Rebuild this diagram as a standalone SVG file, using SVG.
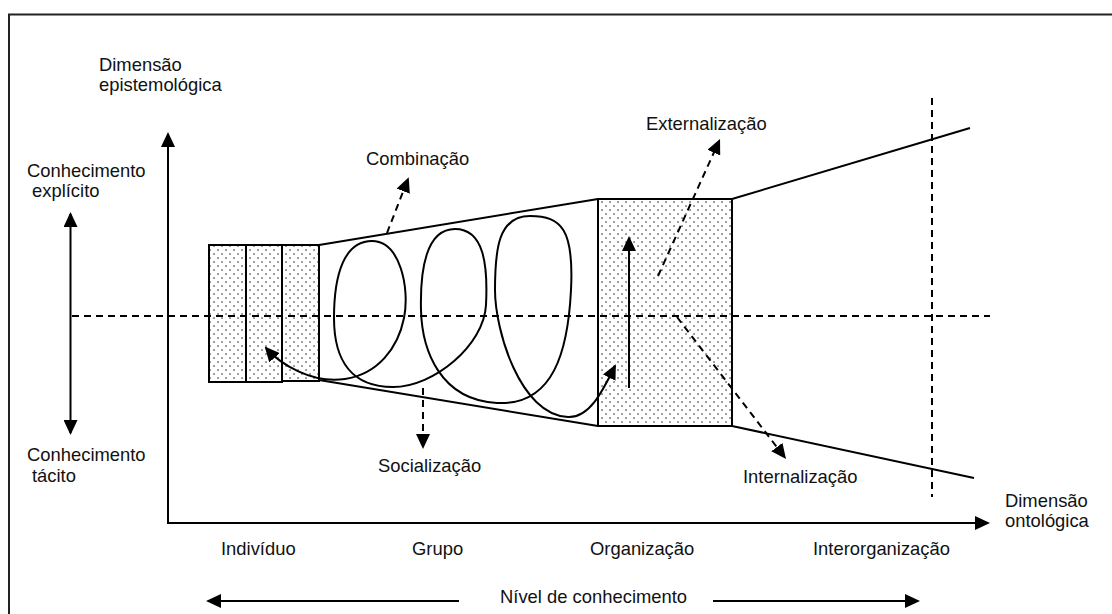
<svg xmlns="http://www.w3.org/2000/svg" width="1112" height="614" viewBox="0 0 1112 614">
  <defs>
    <pattern id="dots" patternUnits="userSpaceOnUse" width="8" height="8">
      <rect x="1.3" y="1.3" width="1.5" height="1.5" fill="#555"/>
      <rect x="5.3" y="5.3" width="1.5" height="1.5" fill="#555"/>
    </pattern>
    <marker id="arrow" markerUnits="userSpaceOnUse" viewBox="0 0 15 14" markerWidth="15" markerHeight="14" refX="13" refY="7" orient="auto-start-reverse">
      <path d="M0,0 L15,7 L0,14 z" fill="#000"/>
    </marker>
    <style>
      text { font-family: "Liberation Sans", Arial, sans-serif; font-size: 18.4px; fill: #111; }
      .solid { fill: none; stroke: #000; stroke-width: 2; }
      .dash { fill: none; stroke: #000; stroke-width: 2; stroke-dasharray: 7 5; }
      .box { fill: url(#dots); stroke: #000; stroke-width: 2; }
      .arr { marker-end: url(#arrow); }
    </style>
  </defs>

  <rect x="0" y="0" width="1112" height="614" fill="#fff"/>
  <!-- frame -->
  <rect x="9" y="14.5" width="1200" height="700" fill="none" stroke="#222" stroke-width="2"/>

  <!-- nodes -->
  <g id="individuo-boxes">
    <rect class="box" x="209" y="245" width="37" height="137"/>
    <rect class="box" x="246" y="245" width="36" height="137"/>
    <rect class="box" x="282" y="245" width="37" height="136"/>
  </g>
  <g id="organizacao-box">
    <rect class="box" x="598" y="199" width="134" height="227"/>
  </g>

  <g id="connectors">
    <!-- funnel lines -->
    <line class="solid" x1="319" y1="245" x2="598" y2="199"/>
    <line class="solid" x1="319" y1="380" x2="598" y2="426"/>
    <line class="solid" x1="732" y1="199" x2="970" y2="128"/>
    <line class="solid" x1="732" y1="426" x2="974" y2="478"/>

    <!-- axes -->
    <line class="solid arr" x1="168" y1="523" x2="168" y2="134"/>
    <line class="solid arr" x1="167" y1="523" x2="988" y2="523"/>
    <line class="solid" x1="70.5" y1="214" x2="70.5" y2="433" marker-start="url(#arrow)" marker-end="url(#arrow)"/>
    <line class="solid arr" x1="459" y1="601" x2="208" y2="601"/>
    <line class="solid arr" x1="713" y1="601" x2="918" y2="601"/>

    <!-- dashed guides -->
    <line class="dash" x1="72" y1="316" x2="990" y2="316"/>
    <line class="dash" x1="932" y1="98" x2="932" y2="497"/>

    <!-- spiral -->
    <path class="solid" marker-start="url(#arrow)" marker-end="url(#arrow)"
      d="M266,348 C280,364 312,384 345,379 S398,348 404,318 S400,241 372,241 S334,275 334,318 S352,387 393,387 S484,345 486,305 S484,229 455,229 S420,270 421,310 S440,400 497,403 S568,350 571,290 S562,216 530,216 S495,250 495,290 S520,415 568,417 C590,418 603,390 615,366"/>

    <!-- vertical arrow inside organisation box -->
    <line class="solid arr" x1="629" y1="388" x2="629" y2="238"/>

    <!-- SECI dashed arrows -->
    <line class="dash arr" x1="387" y1="233" x2="408" y2="179"/>
    <line class="dash arr" x1="423" y1="388" x2="423" y2="447"/>
    <line class="dash arr" x1="658" y1="276" x2="719.2" y2="140.8"/>
    <line class="dash arr" x1="677" y1="317" x2="784.8" y2="457.4"/>
  </g>

  <g id="labels">
    <text x="99" y="71">Dimensão</text>
    <text x="99" y="91">epistemológica</text>
    <text x="27" y="177">Conhecimento</text>
    <text x="32" y="197">explícito</text>
    <text x="27" y="461">Conhecimento</text>
    <text x="32" y="482">tácito</text>
    <text x="366" y="165">Combinação</text>
    <text x="646" y="130">Externalização</text>
    <text x="378" y="472">Socialização</text>
    <text x="743" y="483">Internalização</text>
    <text x="1005" y="507">Dimensão</text>
    <text x="1005" y="527">ontológica</text>
    <text x="221" y="555">Indivíduo</text>
    <text x="412" y="555">Grupo</text>
    <text x="590" y="555">Organização</text>
    <text x="813" y="555">Interorganização</text>
    <text x="500" y="603">Nível de conhecimento</text>
  </g>
</svg>
